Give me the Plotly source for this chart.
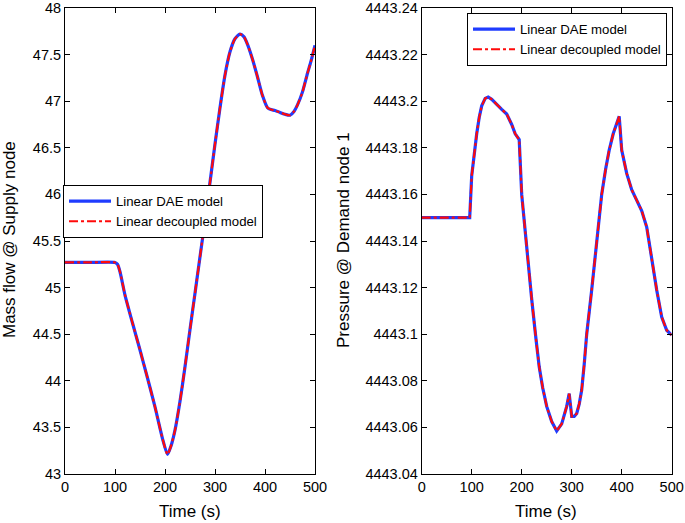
import plotly.graph_objects as go

# Left panel: Mass flow @ Supply node
t_left = [0, 50, 100, 105, 110, 120, 135, 150, 165, 180, 195, 205, 212, 220, 230, 240, 250, 260, 270, 280, 290,
          300, 310, 320, 330, 340, 350, 358, 365, 375, 385, 395, 405, 412, 420, 430, 440, 450, 458, 465, 475, 485, 492, 500]
mass_flow = [45.27, 45.27, 45.27, 45.25, 45.17, 44.92, 44.62, 44.33, 44.03, 43.72, 43.38, 43.21, 43.3, 43.47, 43.78, 44.15,
             44.55, 44.94, 45.33, 45.72, 46.13, 46.54, 46.93, 47.28, 47.53, 47.67, 47.72, 47.69, 47.61, 47.45, 47.26, 47.06,
             46.93, 46.91, 46.9, 46.88, 46.86, 46.85, 46.89, 46.96, 47.1, 47.3, 47.43, 47.6]

# Right panel: Pressure @ Demand node 1
t_right = [0, 50, 96, 100, 105, 110, 115, 120, 127, 133, 140, 150, 160, 170, 180, 187, 195, 200, 205, 210, 220, 228,
           235, 242, 250, 260, 270, 280, 290, 295, 300, 305, 310, 315, 320, 325, 330, 340, 350, 360, 368, 375, 383,
           390, 395, 400, 405, 410, 420, 430, 440, 450, 460, 470, 480, 490, 500]
pressure = [4443.15, 4443.15, 4443.15, 4443.168, 4443.178, 4443.186, 4443.193, 4443.198, 4443.2012, 4443.2018, 4443.2008,
            4443.1985, 4443.1965, 4443.1945, 4443.190, 4443.186, 4443.1835, 4443.16, 4443.148, 4443.136, 4443.115,
            4443.099, 4443.086, 4443.077, 4443.069, 4443.0625, 4443.0585, 4443.0615, 4443.069, 4443.0745, 4443.0647,
            4443.0647, 4443.066, 4443.07, 4443.076, 4443.087, 4443.1, 4443.119, 4443.14, 4443.16, 4443.171, 4443.179,
            4443.186, 4443.191, 4443.1935, 4443.179, 4443.174, 4443.169, 4443.162, 4443.1575, 4443.153, 4443.146,
            4443.1317, 4443.119, 4443.1074, 4443.1017, 4443.0996]

left_yticks = [43, 43.5, 44, 44.5, 45, 45.5, 46, 46.5, 47, 47.5, 48]
left_yticklabels = ["43", "43.5", "44", "44.5", "45", "45.5", "46", "46.5", "47", "47.5", "48"]
right_yticks = [4443.04, 4443.06, 4443.08, 4443.10, 4443.12, 4443.14, 4443.16, 4443.18, 4443.20, 4443.22, 4443.24]
right_yticklabels = ["4443.04", "4443.06", "4443.08", "4443.1", "4443.12", "4443.14", "4443.16", "4443.18",
                     "4443.2", "4443.22", "4443.24"]
xticks = [0, 100, 200, 300, 400, 500]

names = ["Linear DAE model", "Linear decoupled model"]
FONT = "Liberation Sans, Arial, Helvetica, sans-serif"
W, H = 685, 523

fig = go.Figure()
for (tx, ty, xa, ya, lg, shape) in [(t_left, mass_flow, "x", "y", "legend", "spline"),
                                    (t_right, pressure, "x2", "y2", "legend2", "linear")]:
    fig.add_trace(go.Scatter(x=tx, y=ty, xaxis=xa, yaxis=ya, mode="lines", name=names[0],
                             line=dict(color="#1f3cff", width=3.2, shape=shape, smoothing=0.6), legend=lg))
    fig.add_trace(go.Scatter(x=tx, y=ty, xaxis=xa, yaxis=ya, mode="lines", name=names[1],
                             line=dict(color="#ff0a0a", width=2.2, dash="dashdot", shape=shape, smoothing=0.6),
                             legend=lg))

y_dom = [1 - 474 / H, 1 - 8 / H]
axis_common = dict(showline=True, linecolor="black", linewidth=1, mirror="ticks", ticks="inside",
                   ticklen=5, tickcolor="black", showgrid=False, zeroline=False, automargin=False,
                   ticklabeloverflow="allow",
                   tickfont=dict(family=FONT, size=14.5, color="black"))

title_font = dict(family=FONT, size=17, color="black")
legend_common = dict(xanchor="left", yanchor="top", bgcolor="white", bordercolor="black", borderwidth=1,
                     itemwidth=42, font=dict(family=FONT, size=13.2, color="black"))
fig.update_layout(
    width=W, height=H, margin=dict(l=0, r=0, t=0, b=0, pad=0), autosize=False,
    paper_bgcolor="white", plot_bgcolor="white",
    font=dict(family=FONT, color="black"),
    xaxis=dict(domain=[65 / W, 315 / W], range=[0, 500], tickvals=xticks, anchor="y", **axis_common),
    yaxis=dict(domain=y_dom, range=[43, 48], tickvals=left_yticks, ticktext=left_yticklabels, anchor="x",
               **axis_common),
    xaxis2=dict(domain=[421.7 / W, 671.7 / W], range=[0, 500], tickvals=xticks, anchor="y2", **axis_common),
    yaxis2=dict(domain=y_dom, range=[4443.04, 4443.24], tickvals=right_yticks, ticktext=right_yticklabels,
                anchor="x2", **axis_common),
    legend=dict(x=63 / W, y=1 - 185 / H, **legend_common),
    legend2=dict(x=467 / W, y=1 - 13 / H, **legend_common),
    showlegend=True,
    annotations=[
        dict(text="Mass flow @ Supply node", x=10 / W, y=1 - 240 / H, xref="paper", yref="paper",
             xanchor="center", yanchor="middle", textangle=-90, showarrow=False, font=title_font),
        dict(text="Pressure @ Demand node 1", x=344 / W, y=1 - 240 / H, xref="paper", yref="paper",
             xanchor="center", yanchor="middle", textangle=-90, showarrow=False, font=title_font),
        dict(text="Time (s)", x=190 / W, y=1 - 511 / H, xref="paper", yref="paper",
             xanchor="center", yanchor="middle", showarrow=False, font=title_font),
        dict(text="Time (s)", x=546 / W, y=1 - 511 / H, xref="paper", yref="paper",
             xanchor="center", yanchor="middle", showarrow=False, font=title_font),
    ],
)

fig.write_html("out.html", config={"displayModeBar": False},
               post_script="document.body.style.margin='0';document.body.style.overflow='hidden';")
